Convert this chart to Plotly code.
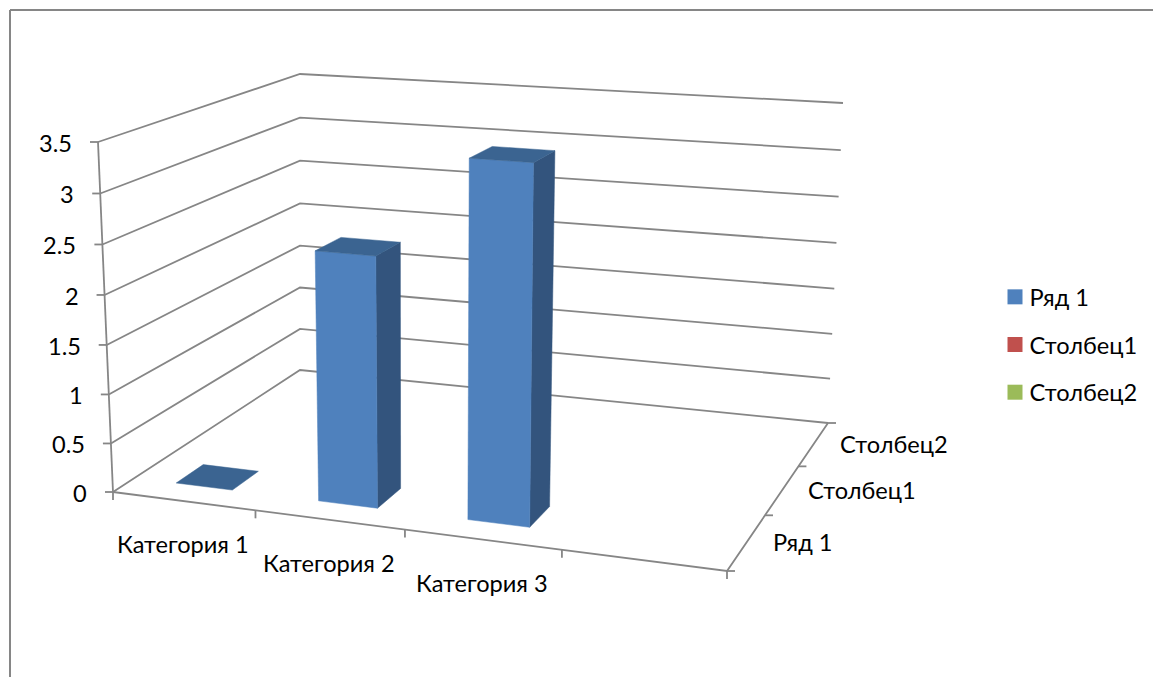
import numpy as np
import plotly.graph_objects as go

categories = ["Категория 1", "Категория 2", "Категория 3", ""]
series_names = ["Ряд 1", "Столбец1", "Столбец2"]
series_colors = ["#4F81BD", "#C0504D", "#9BBB59"]
row1_values = [0, 2.5, 3.5, None]
value_ticks = [0, 0.5, 1, 1.5, 2, 2.5, 3, 3.5]
value_labels = ["0", "0.5", "1", "1.5", "2", "2.5", "3", "3.5"]

W, H = 1153, 677
ZMAX = 3.5
GRID = "#868686"
FRONT, SIDE, TOP = "#4F81BD", "#33547D", "#3B6491"
FONT = dict(family="Lato, Carlito, 'Noto Sans', sans-serif", size=23.6, color="#000000")


def homography(q):
    A, b = [], []
    for (u, v), (x, y) in zip([(0, 0), (1, 0), (1, 1), (0, 1)], q):
        A.append([u, v, 1, 0, 0, 0, -u * x, -v * x]); b.append(x)
        A.append([0, 0, 0, u, v, 1, -u * y, -v * y]); b.append(y)
    return np.append(np.linalg.solve(np.array(A, float), np.array(b, float)), 1).reshape(3, 3)


FLOOR = homography([(113, 492), (727, 571), (828, 423), (300, 370)])
CEIL = homography([(98, 142), (738, 188), (843, 103), (300, 74)])


def warp(t, c):
    return t / (1 - c * (1 - t))


def project(u, v, z):
    a = FLOOR @ [warp(u, 0.018), v, 1]; b = CEIL @ [warp(u, 0.044), v, 1]
    a, b = a[:2] / a[2], b[:2] / b[2]
    t = z / ZMAX
    return tuple(a + (b - a) * t / (1 + 0.035 * (1 - t)))


def line(points, color=GRID, width=1.8):
    return go.Scatter(x=[p[0] for p in points], y=[p[1] for p in points], mode="lines",
                      line=dict(color=color, width=width), showlegend=False, hoverinfo="skip")


def face(points, color):
    pts = points + points[:1]
    return go.Scatter(x=[p[0] for p in pts], y=[p[1] for p in pts], mode="lines", fill="toself",
                      fillcolor=color, line=dict(color=color, width=0.5), showlegend=False, hoverinfo="skip")


fig = go.Figure()
nc, ns = len(categories), len(series_names)

# walls: value gridlines
for z, label in zip(value_ticks, value_labels):
    fig.add_trace(line([project(0, 0, z), project(0, 1, z), project(1, 1, z)]))
    x, y = project(0, 0, z)
    fig.add_trace(line([(x - 8, y), (x, y)]))
    fig.add_annotation(x=x - 24, y=y + 1, text=label, showarrow=False,
                       xanchor="right", yanchor="middle", font=FONT)
# floor + axes
fig.add_trace(line([project(0, 0, 0), project(1, 0, 0), project(1, 1, 0)]))
fig.add_trace(line([project(0, 0, 0), project(0, 0, ZMAX)]))
for i in range(nc + 1):
    x, y = project(i / nc, 0, 0)
    fig.add_trace(line([(x, y), (x, y + 8)]))
for j in range(ns + 1):
    x, y = project(1, j / ns, 0)
    fig.add_trace(line([(x, y), (x + 8, y)]))
for i, c in enumerate(categories):
    if c:
        x, y = project((i + 0.5) / nc, 0, 0)
        fig.add_annotation(x=x, y=y + 43, text=c, showarrow=False, xanchor="center", yanchor="middle", font=FONT)
for j, s in enumerate(series_names):
    x, y = project(1, (j + 0.5) / ns, 0)
    fig.add_annotation(x=x + 24, y=y, text=s, showarrow=False, xanchor="left", yanchor="middle", font=FONT)

# bars (gap width 150 %, gap depth 150 %)
BAND = 1 / (1 + 1.5)
for i, val in enumerate(row1_values):
    if val is None:
        continue
    u0 = (i + 0.5 - BAND / 2) / nc; u1 = (i + 0.5 + BAND / 2) / nc
    v0 = (0.5 - BAND / 2) / ns; v1 = (0.5 + BAND / 2) / ns
    if val > 0:
        fig.add_trace(face([project(u1, v0, 0), project(u1, v1, 0), project(u1, v1, val), project(u1, v0, val)], SIDE))
        fig.add_trace(face([project(u0, v0, 0), project(u1, v0, 0), project(u1, v0, val), project(u0, v0, val)], FRONT))
    fig.add_trace(face([project(u0, v0, val), project(u1, v0, val), project(u1, v1, val), project(u0, v1, val)], TOP))

# legend
for s, c in zip(series_names, series_colors):
    fig.add_trace(go.Scatter(x=[None], y=[None], mode="markers", name=s, legendgroup=s,
                             marker=dict(symbol="square", size=15, color=c)))

# chart frame
fig.add_shape(type="line", x0=10, x1=10, y0=10, y1=H, line=dict(color=GRID, width=2))
fig.add_shape(type="line", x0=10, x1=W, y0=10, y1=10, line=dict(color=GRID, width=2))

fig.update_layout(
    width=W, height=H, margin=dict(l=0, r=0, t=0, b=0), paper_bgcolor="white", plot_bgcolor="white",
    xaxis=dict(range=[0, W], visible=False, fixedrange=True),
    yaxis=dict(range=[H, 0], visible=False, fixedrange=True),
    legend=dict(x=995 / W, y=1 - 275 / H, xanchor="left", yanchor="top", font=FONT, tracegroupgap=14,
                bgcolor="rgba(0,0,0,0)", itemwidth=30),
    hovermode=False,
)
fig.write_html("out.html", config=dict(displayModeBar=False), post_script=(
    "document.body.style.margin='0';"
    "document.querySelectorAll('.legendtext').forEach(function(t){"
    "t.setAttribute('x', parseFloat(t.getAttribute('x')) - 5.5);});"))
